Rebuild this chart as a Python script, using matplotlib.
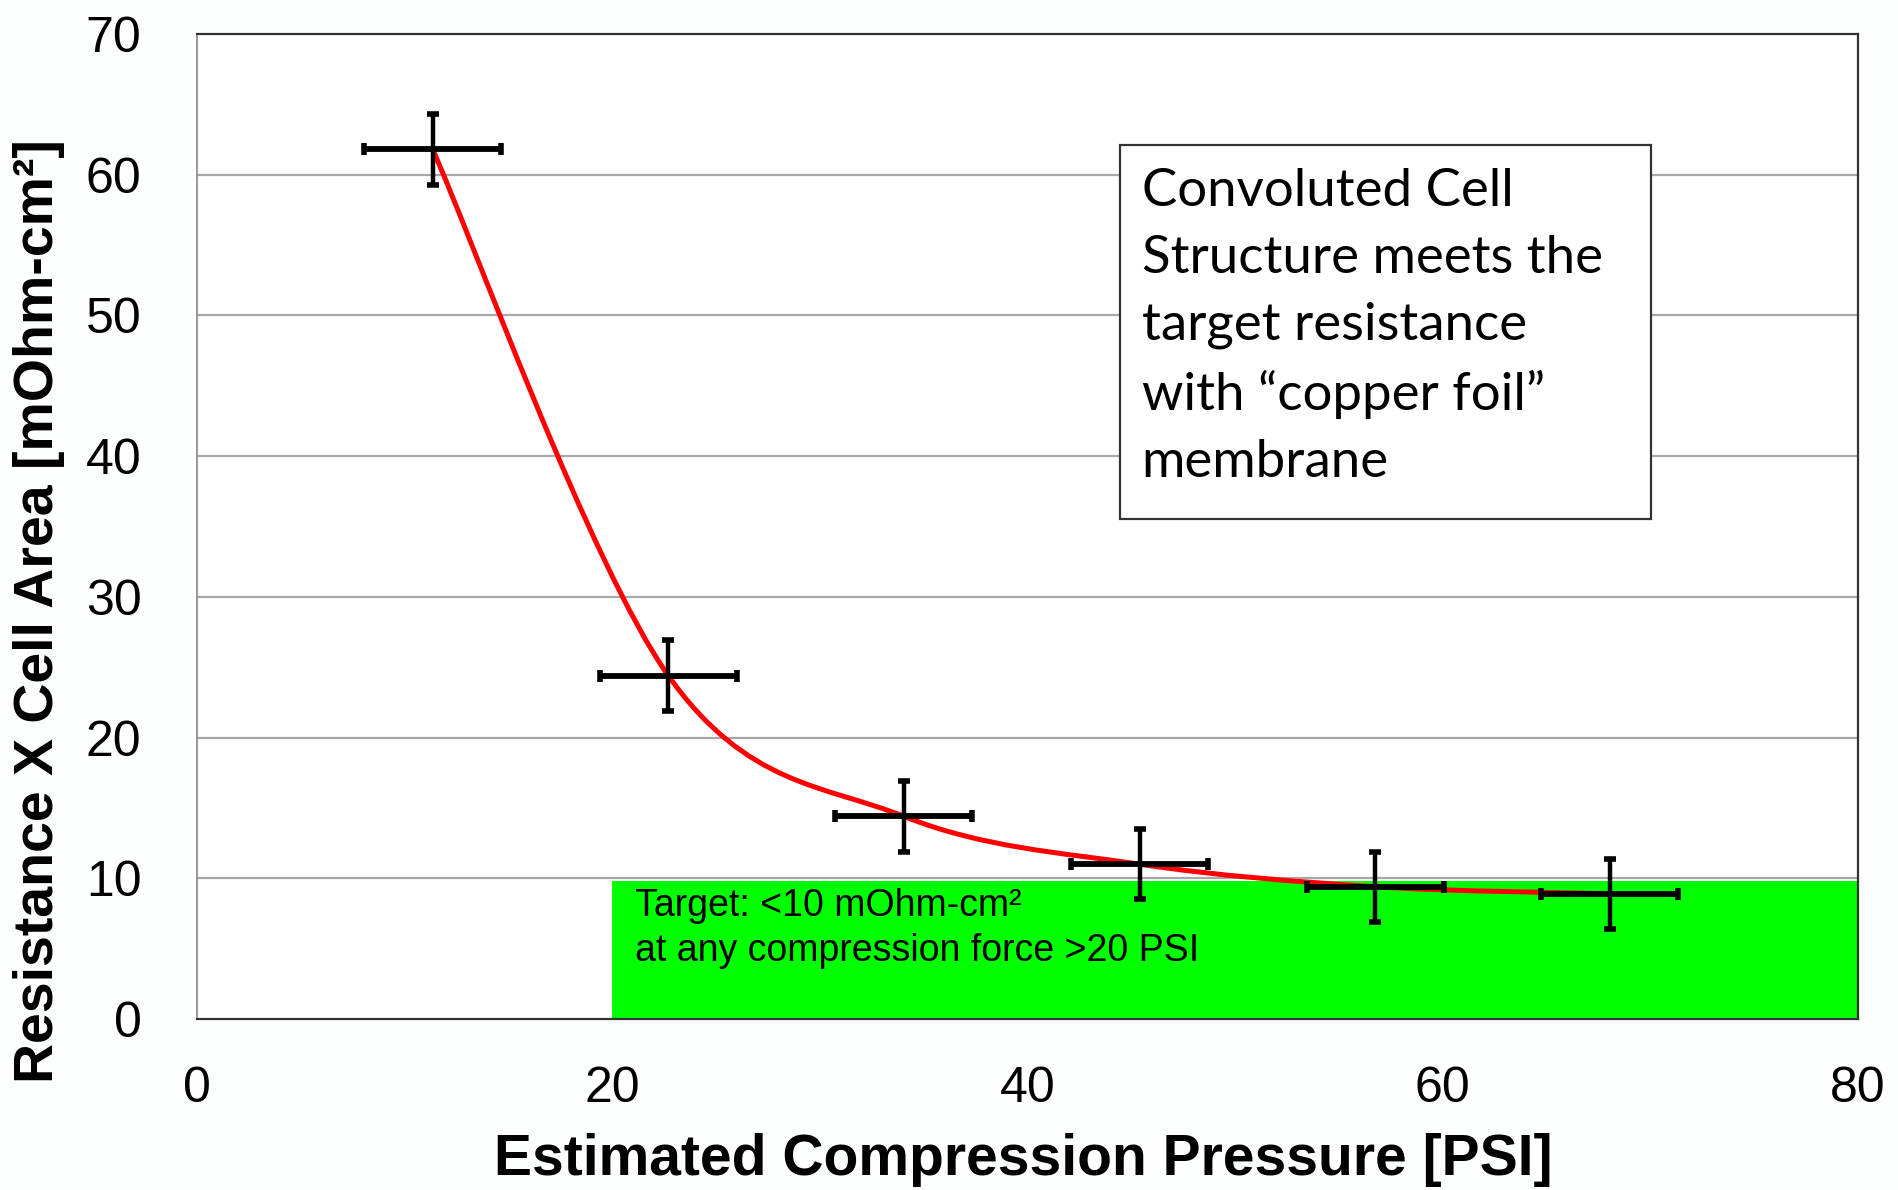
import numpy as np
import matplotlib.pyplot as plt
from matplotlib.path import Path
from matplotlib.patches import PathPatch, Rectangle

# ==================================================
# data
# ==================================================

pressure = [11.35, 22.7, 34.05, 45.4, 56.75, 68.05]
resistance = [61.8, 24.4, 14.4, 11.0, 9.4, 8.9]
pressure_err = [3.3, 3.3, 3.3, 3.3, 3.3, 3.3]
resistance_err = [2.5, 2.5, 2.5, 2.5, 2.5, 2.5]

target_value = 9.8
target_from = 20

x_ticks = [0, 20, 40, 60, 80]
y_ticks = [0, 10, 20, 30, 40, 50, 60, 70]

note_text = ("Convoluted Cell\nStructure meets the\ntarget resistance\n"
             "with \u201ccopper foil\u201d\nmembrane")
target_text = "Target: <10 mOhm-cm\u00b2\nat any compression force >20 PSI"

narrow = ['Liberation Sans Narrow', 'Liberation Sans', 'DejaVu Sans']
arial = ['Liberation Sans', 'DejaVu Sans']

# ==================================================
# figure
# ==================================================

W, H = 1898, 1190
fig = plt.figure(figsize=(W / 100, H / 100), dpi=100)
fig.patch.set_facecolor('#fdfefe')

ax = fig.add_axes([197 / W, 1 - 1019 / H, (1858 - 197) / W, (1019 - 34) / H])
ax.set_facecolor('white')
ax.set_xlim(0, 80)
ax.set_ylim(0, 70)

# grid
for yv in y_ticks[1:-1]:
    ax.axhline(yv, color='#a8a8a8', lw=1.6, zorder=1)

# green target area
ax.add_patch(Rectangle((target_from, 0), 80 - target_from, target_value,
                       facecolor='#00ff00', edgecolor='none', zorder=2))
ax.text(21.1, 9.3, target_text, family=narrow, fontsize=27,
        va='top', ha='left', linespacing=1.3, zorder=6)

# smoothed line (excel style bezier through the points)
pts = np.column_stack([pressure, resistance])
verts = [tuple(pts[0])]
codes = [Path.MOVETO]
n = len(pts)
for i in range(n - 1):
    p0 = pts[max(i - 1, 0)]
    p1 = pts[i]
    p2 = pts[i + 1]
    p3 = pts[min(i + 2, n - 1)]
    c1 = p1 + (p2 - p0) / 6
    c2 = p2 - (p3 - p1) / 6
    verts += [tuple(c1), tuple(c2), tuple(p2)]
    codes += [Path.CURVE4] * 3
ax.add_patch(PathPatch(Path(verts, codes), facecolor='none',
                       edgecolor='#ff0000', lw=3.6, zorder=4))

# error bars
ax.errorbar(pressure, resistance, xerr=pressure_err, fmt='none',
            ecolor='black', elinewidth=4.2, capsize=4, capthick=4, zorder=5)
ax.errorbar(pressure, resistance, yerr=resistance_err, fmt='none',
            ecolor='black', elinewidth=3.2, capsize=4, capthick=4, zorder=5)

# note box
ax.add_patch(Rectangle((44.45, 35.5), 70.05 - 44.45, 62.1 - 35.5,
                       facecolor='white', edgecolor='#333333', lw=1.6, zorder=6))
ax.text(45.5, 60.45, note_text, family=['Lato', 'DejaVu Sans'], fontsize=38,
        va='top', ha='left', linespacing=1.52, zorder=7)

# axes style
ax.set_xticks(x_ticks)
ax.set_yticks(y_ticks)
ax.tick_params(length=0)
ax.set_xticklabels([str(v) for v in x_ticks], family=narrow, fontsize=36)
ax.set_yticklabels([str(v) for v in y_ticks], family=narrow, fontsize=36)
ax.tick_params(axis='x', pad=34)
ax.tick_params(axis='y', pad=40)

for side in ['top', 'right', 'bottom']:
    ax.spines[side].set_color('#333333')
    ax.spines[side].set_linewidth(1.6)
ax.spines['left'].set_color('#888888')
ax.spines['left'].set_linewidth(1.2)

fig.text(1023 / W, 1 - 1160 / H, 'Estimated Compression Pressure [PSI]',
         family=narrow, fontsize=41, fontweight='bold', ha='center', va='center')
fig.text(39 / W, 1 - 611 / H, 'Resistance X Cell Area [mOhm-cm\u00b2]',
         family=arial, fontsize=40, fontweight='bold', ha='center', va='center',
         rotation=90)

plt.savefig('out.png', dpi=100)
